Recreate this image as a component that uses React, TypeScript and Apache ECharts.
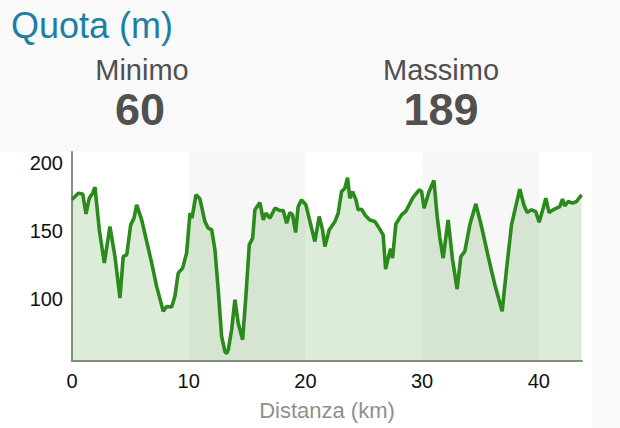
import React, { useEffect, useRef } from "react";
import * as echarts from "echarts";

const distanceKm = [
  0, 0.54, 0.92, 1.2, 1.48, 1.77, 1.97, 2.34, 2.77, 3.25, 3.68, 4.11, 4.39, 4.69, 5.03, 5.31, 5.54, 5.97,
  6.4, 6.83, 7.25, 7.82, 8.11, 8.54, 8.82, 9.1, 9.48, 9.82, 10.11, 10.28, 10.62, 10.96, 11.39, 11.67, 11.97,
  12.25, 12.53, 12.82, 13.1, 13.25, 13.39, 13.68, 13.96, 14.24, 14.62, 14.9, 15.19, 15.48, 15.67, 16.1, 16.39,
  16.62, 16.96, 17.39, 17.82, 18.1, 18.39, 18.67, 18.9, 19.16, 19.38, 19.67, 20.04, 20.39, 20.81, 21.18,
  21.47, 21.67, 22.04, 22.53, 22.81, 23.1, 23.38, 23.61, 23.81, 24.04, 24.33, 24.52, 24.81, 25.1, 25.52,
  25.95, 26.32, 26.66, 26.87, 27.09, 27.3, 27.47, 27.75, 28.24, 28.61, 28.89, 29.23, 29.75, 29.95, 30.17,
  30.6, 31.01, 31.29, 31.52, 31.8, 32.23, 32.61, 33.0, 33.32, 33.66, 34.09, 34.6, 35.09, 35.66, 36.23,
  36.86, 37.23, 37.66, 38.09, 38.37, 38.72, 39.0, 39.37, 39.74, 40.03, 40.37, 40.6, 40.88, 41.23, 41.52,
  41.8, 42.03, 42.23, 42.51, 42.89, 43.23, 43.66,
];

const elevationM = [
  173, 177.6, 177, 162.4, 174, 177.6, 182, 150.7, 126.4, 153.2, 131.2, 100.7, 131.2, 132.4, 154.4, 159.3, 169, 158,
  142.2, 126.4, 109.3, 91, 94.6, 94.2, 102, 119, 122.7, 133.7, 163, 159.3, 176.4, 173.5, 156.8, 152, 150.7,
  136, 106.8, 72.6, 61.6, 60, 62.9, 77.5, 99.5, 82.4, 70.2, 102, 139.7, 144.7, 165.4, 170.7, 158,
  163, 159.3, 166.6, 164.9, 164.9, 155.6, 163.4, 161.7, 148.8, 167.8, 172.7, 169, 156.8, 142.2, 160.5,
  150.7, 138.5, 150.7, 156.8, 163, 178.8, 181.3, 189, 173.9, 178.8, 172.7, 165.4, 165.9, 161.7, 158,
  156.8, 152, 147.1, 122, 130, 137, 130, 155, 161.7, 164.5, 169, 174.5, 180, 179, 166.6,
  178.8, 187, 160.5, 145, 130, 158, 128.8, 107.3, 131.2, 134.9, 154.4, 169.8, 153.2, 131.2, 110.5,
  91, 121.5, 154.4, 170.3, 180.5, 169, 163.4, 165.4, 164.1, 156.3, 166.6, 173.9, 163.4, 165.4, 166.6,
  167.8, 173.2, 168.3, 171.5, 170.3, 171.5, 176.4,
];

const titleText = "Quota (m)";
const minLabel = "Minimo";
const maxLabel = "Massimo";
const minValue = "60";
const maxValue = "189";
const xAxisName = "Distanza (km)";

const FONT = "'Liberation Sans', Arial, Helvetica, sans-serif";

export default function App() {
  const ref = useRef<HTMLDivElement>(null);

  useEffect(() => {
    document.body.style.margin = "0";
    if (!ref.current) return;
    const chart = echarts.init(ref.current, undefined, { renderer: "svg" });
    const data = distanceKm.map((d, i) => [d, elevationM[i]]);
    chart.setOption({
      animation: false,
      backgroundColor: "#f9f9f9",
      textStyle: { fontFamily: FONT },
      graphic: [
        { type: "rect", z: -10, silent: true, shape: { x: 0, y: 152, width: 592, height: 276 }, style: { fill: "#ffffff" } },
        { type: "text", x: 11, y: 25, style: { text: titleText, font: `36px ${FONT}`, fill: "#1c7fa6", textVerticalAlign: "middle" } },
        { type: "text", x: 142, y: 70, style: { text: minLabel, font: `29px ${FONT}`, fill: "#505050", textAlign: "center", textVerticalAlign: "middle" } },
        { type: "text", x: 441, y: 70, style: { text: maxLabel, font: `29px ${FONT}`, fill: "#505050", textAlign: "center", textVerticalAlign: "middle" } },
        { type: "text", x: 140, y: 109, style: { text: minValue, font: `bold 45px ${FONT}`, fill: "#505050", textAlign: "center", textVerticalAlign: "middle" } },
        { type: "text", x: 441, y: 109, style: { text: maxValue, font: `bold 45px ${FONT}`, fill: "#505050", textAlign: "center", textVerticalAlign: "middle" } },
      ],
      grid: { left: 72, right: 38, top: 152, bottom: 67, containLabel: false },
      xAxis: {
        type: "value",
        min: 0,
        max: 43.7,
        interval: 10,
        name: xAxisName,
        nameLocation: "middle",
        nameGap: 38,
        nameTextStyle: { color: "#8f8f8f", fontSize: 22, fontFamily: FONT },
        axisLine: { show: true, lineStyle: { color: "#8a8a8a", width: 2 } },
        axisTick: { show: false },
        axisLabel: { color: "#111", fontSize: 20, margin: 10, showMaxLabel: false, fontFamily: FONT },
        splitLine: { show: false },
        splitArea: { show: true, areaStyle: { color: ["#ffffff", "#f7f7f7"] } },
      },
      yAxis: {
        type: "value",
        min: 54.6,
        max: 207.8,
        splitNumber: 3,
        axisLine: { show: true, lineStyle: { color: "#8a8a8a", width: 2 } },
        axisTick: { show: false },
        axisLabel: { color: "#111", fontSize: 20, margin: 9, showMinLabel: false, showMaxLabel: false, fontFamily: FONT },
        splitLine: { show: true, showMinLine: false, showMaxLine: false, lineStyle: { color: "#e0e0e0", width: 2 } },
      },
      series: [
        {
          type: "line",
          data,
          showSymbol: false,
          smooth: false,
          lineStyle: { color: "#2a8a1c", width: 3.6 },
          areaStyle: { color: "rgba(75,155,55,0.27)" },
        },
      ],
    });
    return () => chart.dispose();
  }, []);

  return <div ref={ref} style={{ position: "absolute", left: 0, top: 0, width: 620, height: 428 }} />;
}
